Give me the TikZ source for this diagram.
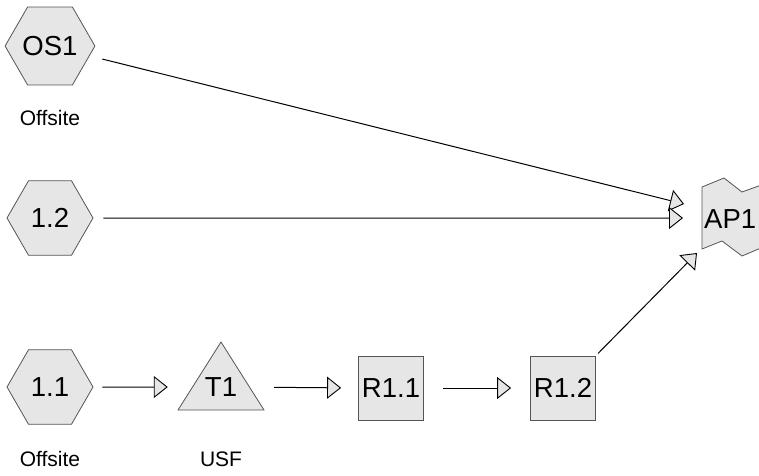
\documentclass[tikz,border=0pt]{standalone}
\usepackage{fontspec}
\setmainfont{Liberation Sans}
\usetikzlibrary{shapes.geometric,arrows.meta}
\definecolor{shapefill}{HTML}{E6E6E6}
\definecolor{shapeline}{HTML}{555555}
\tikzset{
  hexa/.style={regular polygon, regular polygon sides=6, minimum size=86pt, inner sep=0pt,
    draw=shapeline, fill=shapefill, line width=0.8pt, font=\fontsize{27.5}{27.5}\selectfont},
  boxnode/.style={rectangle, minimum width=65pt, minimum height=64pt, inner sep=0pt,
    draw=shapeline, fill=shapefill, line width=0.8pt, font=\fontsize{27.5}{27.5}\selectfont},
  shapepath/.style={draw=shapeline, fill=shapefill, line width=0.8pt, line join=miter},
  lbl/.style={font=\fontsize{27.5}{27.5}\selectfont, inner sep=0pt},
  small/.style={font=\fontsize{21}{21}\selectfont, inner sep=0pt},
  arr/.style={draw=black, line width=1pt,
    -{Triangle[length=14pt,width=22pt,fill=shapefill,line width=0.9pt]}},
}
\begin{document}
\begin{tikzpicture}[x=1pt,y=-1pt]
\useasboundingbox (0,0) rectangle (759,475);
\clip (0,0) rectangle (759,475);
% hexagons
\node[hexa] (OS1) at (50,46) {OS1};
\node[hexa] (h12) at (50,218) {1.2};
\node[hexa] (h11) at (50,387) {1.1};
\node[small] (off1) at (50,118) {Offsite};
\node[small] (off2) at (50,459) {Offsite};
% triangle T1
\path[shapepath] (221,342) -- (264,410) -- (178,410) -- cycle;
\node[lbl] (T1) at (221,387) {T1};
\node[small] (usf) at (221,459) {USF};
% boxes
\node[boxnode] (R11) at (391,388) {R1.1};
\node[boxnode] (R12) at (563,388) {R1.2};
% AP1
\path[shapepath] (702,187) -- (724,178) -- (742,192) -- (775,180) -- (775,242)
  -- (742,256) -- (722,241) -- (702,249) -- cycle;
\node[lbl, anchor=west] (AP1) at (704,219) {AP1};
\coordinate (in1) at (684,204);
\coordinate (in2) at (683,218);
\coordinate (in3) at (697,253);
% connectors
\draw[arr, shorten <=13pt] (OS1) -- (in1);
\draw[arr, shorten <=10pt] (h12) -- (in2);
\draw[arr, shorten <=3pt] (R12.north east) -- (in3);
\draw[arr, shorten <=9pt, shorten >=37pt] (h11.east) -- (T1.west);
\draw[arr, shorten <=37pt, shorten >=17pt] (T1.east) -- (R11.west);
\draw[arr, shorten <=19pt, shorten >=19pt] (R11.east) -- (R12.west);
\end{tikzpicture}
\end{document}
